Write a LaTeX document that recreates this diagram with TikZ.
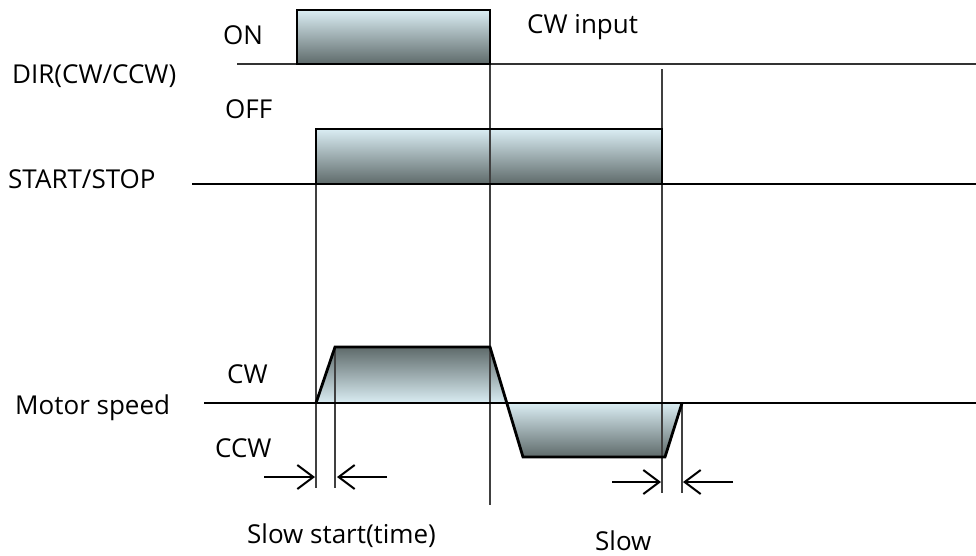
\documentclass[tikz,border=0pt]{standalone}
\usepackage{fontspec}
\setmainfont{Open Sans}
\usetikzlibrary{arrows.meta}

\definecolor{shadelight}{RGB}{218,237,243}
\definecolor{shademid}{RGB}{165,184,189}
\definecolor{shadedark}{RGB}{94,106,106}
\definecolor{guide}{RGB}{64,64,64}

\tikzset{
  lbl/.style={anchor=base west, inner sep=0pt, font=\fontsize{26}{31}\selectfont},
  pulsefill/.style={top color=shadelight, middle color=shademid, bottom color=shadedark},
  invfill/.style={top color=shadedark, middle color=shademid, bottom color=shadelight},
  edge/.style={line width=2.8pt, line join=miter, black},
  baseln/.style={line width=2.4pt, black},
  guideln/.style={line width=1.2pt, guide},
  dimarrow/.style={line width=2pt, -{Straight Barb[length=16pt,width=24pt,line width=2pt]}}
}

\begin{document}
\begin{tikzpicture}[x=1pt, y=-1pt]
  \useasboundingbox (0,0) rectangle (976,555);

  % signal levels
  \coordinate (dirL) at (237,64);   \coordinate (dirR) at (976,64);
  \coordinate (ssL)  at (192,184);  \coordinate (ssR)  at (976,184);
  \coordinate (msL)  at (204,403);  \coordinate (msR)  at (976,403);

  % speed profile corners
  \coordinate (a0) at (316,403);
  \coordinate (a1) at (335,347);
  \coordinate (a2) at (490,347);
  \coordinate (zc) at (507,403);
  \coordinate (b1) at (523,457);
  \coordinate (b2) at (665,457);
  \coordinate (b3) at (682,403);

  % shaded areas
  \shade[pulsefill] (297,10) rectangle (490,64);
  \shade[pulsefill] (316,129) rectangle (662,184);
  \shade[invfill] (a0) -- (a1) -- (a2) -- (zc) -- cycle;
  \shade[pulsefill] (zc) -- (b3) -- (b2) -- (b1) -- cycle;

  % timing guides
  \draw[guideln] (490,64) -- (490,505);
  \draw[guideln] (316,184) -- (316,488);
  \draw[guideln] (335,347) -- (335,488);
  \draw[guideln] (662,69) -- (662,493);
  \draw[guideln] (682,403) -- (682,493);

  % base lines
  \draw[line width=2pt, black!80] (dirL) -- (dirR);
  \draw[baseln] (ssL) -- (ssR);
  \draw[baseln] (msL) -- (msR);

  % signal outlines
  \draw[edge] (297,64) -- (297,10) -- (490,10) -- (490,64) -- cycle;
  \draw[edge] (316,184) -- (316,129) -- (662,129) -- (662,184);
  \draw[edge] (a0) -- (a1) -- (a2) -- (b1) -- (b2) -- (b3);

  % interval markers
  \coordinate (s1) at (264,477); \coordinate (s1e) at (315,477);
  \coordinate (s2) at (387,477); \coordinate (s2e) at (337,477);
  \coordinate (t1) at (612,482); \coordinate (t1e) at (661,482);
  \coordinate (t2) at (733,482); \coordinate (t2e) at (683,482);
  \draw[dimarrow] (s1) -- (s1e);
  \draw[dimarrow] (s2) -- (s2e);
  \draw[dimarrow] (t1) -- (t1e);
  \draw[dimarrow] (t2) -- (t2e);

  % labels
  \node[lbl] (on)    at (223,44)  {ON};
  \node[lbl] (cwin)  at (527,33)  {CW input};
  \node[lbl] (dir)   at (12,83)   {DIR(CW/CCW)};
  \node[lbl] (off)   at (225,118) {OFF};
  \node[lbl] (ss)    at (8,188)   {START/STOP};
  \node[lbl] (cw)    at (227,383) {CW};
  \node[lbl] (ms)    at (15,414)  {Motor speed};
  \node[lbl] (ccw)   at (215,457) {CCW};
  \node[lbl] (sst)   at (247,543) {Slow start(time)};
  \node[lbl] (slow)  at (595,550) {Slow};
\end{tikzpicture}
\end{document}
